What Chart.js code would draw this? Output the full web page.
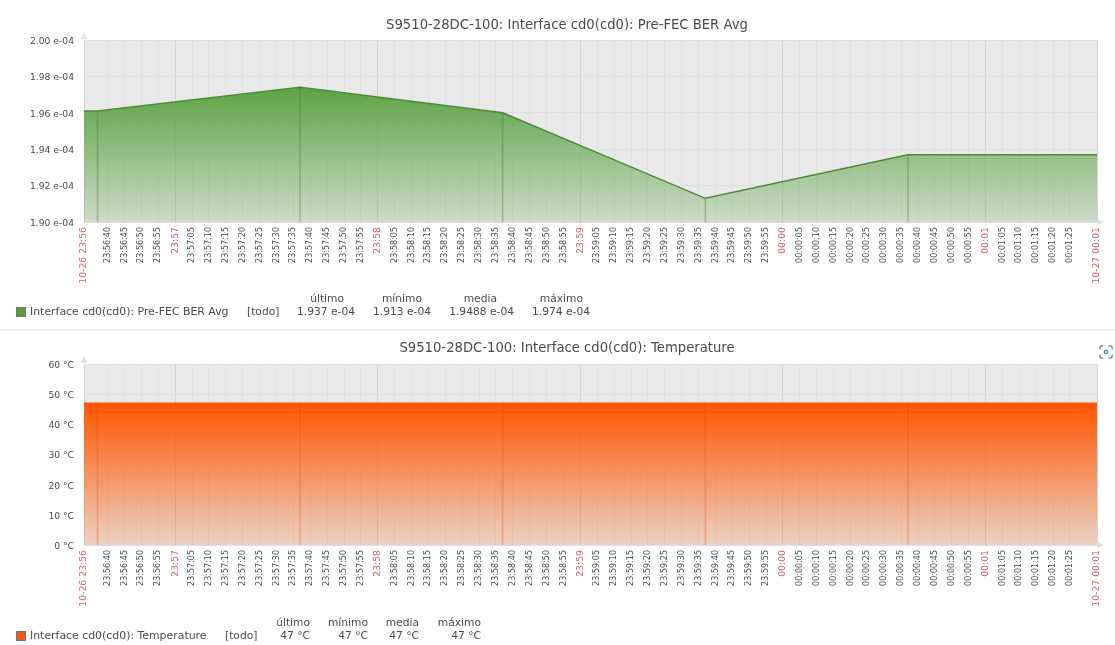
<!DOCTYPE html>
<html>
<head>
<meta charset="utf-8">
<script src="https://cdn.jsdelivr.net/npm/chart.js@4"></script>
<style>
  html, body { margin: 0; padding: 0; background: #fff; }
  body { position: relative; width: 1115px; height: 645px; overflow: hidden; font-family: "DejaVu Sans", sans-serif; color: #4a4a4a; filter: blur(0.4px); }
  canvas { position: absolute; left: 0; }
  #chart-ber { top: 0; }
  #chart-temp { top: 330px; }
  .txt { position: absolute; white-space: nowrap; font-size: 10.7px; line-height: 12px; }
  .name { font-size: 10.9px; }
  .title { font-size: 13.2px; line-height: 16px; transform: translateX(-50%); color: #4a4a4a; }
  .swatch { position: absolute; width: 10px; height: 10px; box-sizing: border-box; border: 1px solid #777; }
  #sep { position: absolute; left: 0; top: 329px; width: 1115px; height: 2px; background: #e6ebf0; }
  #shot { position: absolute; left: 1099px; top: 345px; }
</style>
</head>
<body>
<canvas id="chart-ber" width="1115" height="322"></canvas>
<canvas id="chart-temp" width="1115" height="315"></canvas>
<div id="sep"></div>
<svg id="shot" width="14" height="14" viewBox="0 0 16 16" fill="none" stroke="#4f86b0" stroke-width="1.5">
  <path d="M1 5V3a2 2 0 0 1 2-2h2M11 1h2a2 2 0 0 1 2 2v2M15 11v2a2 2 0 0 1-2 2h-2M5 15H3a2 2 0 0 1-2-2v-2"/>
  <circle cx="8" cy="8" r="1.8"/>
</svg>
<script>
const axisStart = '23:56:33'
const axisEnd = '00:01:33'

const tickLabels = [
  '10-26 23:56', '23:56:40', '23:56:45', '23:56:50', '23:56:55',
  '23:57', '23:57:05', '23:57:10', '23:57:15', '23:57:20', '23:57:25', '23:57:30', '23:57:35', '23:57:40', '23:57:45', '23:57:50', '23:57:55',
  '23:58', '23:58:05', '23:58:10', '23:58:15', '23:58:20', '23:58:25', '23:58:30', '23:58:35', '23:58:40', '23:58:45', '23:58:50', '23:58:55',
  '23:59', '23:59:05', '23:59:10', '23:59:15', '23:59:20', '23:59:25', '23:59:30', '23:59:35', '23:59:40', '23:59:45', '23:59:50', '23:59:55',
  '00:00', '00:00:05', '00:00:10', '00:00:15', '00:00:20', '00:00:25', '00:00:30', '00:00:35', '00:00:40', '00:00:45', '00:00:50', '00:00:55',
  '00:01', '00:01:05', '00:01:10', '00:01:15', '00:01:20', '00:01:25',
  '10-27 00:01'
]

// muestras del historico (la primera y la ultima son los bordes del eje)
const pollTimes = ['23:56:33', '23:56:37', '23:57:37', '23:58:37', '23:59:37', '00:00:37', '00:01:33']
const berValues = [1.961, 1.961, 1.974, 1.96, 1.913, 1.937, 1.937]
const tempValues = [47, 47, 47, 47, 47, 47, 47]

const statHeaders = ['último', 'mínimo', 'media', 'máximo']
const berStats = ['1.937 e-04', '1.913 e-04', '1.9488 e-04', '1.974 e-04']
const tempStats = ['47 °C', '47 °C', '47 °C', '47 °C']

function toSec(t) {
  const p = t.split(':').map(Number)
  const s = p[0] * 3600 + p[1] * 60 + (p[2] || 0)
  return p[0] < 12 ? s + 86400 : s
}

function isRed(label) { return label.length !== 8 }

function tickValue(label, i) {
  if (i === 0) return toSec(axisStart)
  if (i === tickLabels.length - 1) return toSec(axisEnd)
  return toSec(label)
}

const tickValues = tickLabels.map(tickValue)

// fondo gris y flechas de los ejes
const plotDecor = {
  id: 'plotDecor',
  beforeDraw(chart) {
    const { ctx, chartArea: a } = chart
    ctx.save()
    ctx.fillStyle = '#e9e9e9'
    ctx.fillRect(a.left, a.top, a.width, a.height)
    ctx.restore()
  },
  afterDraw(chart) {
    const { ctx, chartArea: a } = chart
    ctx.save()
    ctx.fillStyle = '#dfdfdf'
    ctx.beginPath()
    ctx.moveTo(a.left, a.top - 8); ctx.lineTo(a.left - 3, a.top - 1); ctx.lineTo(a.left + 3, a.top - 1)
    ctx.fill()
    ctx.beginPath()
    ctx.moveTo(a.right + 7, a.bottom); ctx.lineTo(a.right, a.bottom - 3); ctx.lineTo(a.right, a.bottom + 3)
    ctx.fill()
    ctx.restore()
  }
}

function makeChart(id, cfg) {
  const points = pollTimes.map((t, i) => ({ x: toSec(t), y: cfg.values[i] }))
  const peak = Math.max(...cfg.values)

  return new Chart(document.getElementById(id), {
    type: 'line',
    data: {
      datasets: [
        {
          data: points,
          borderColor: cfg.line,
          borderWidth: cfg.lineWidth,
          pointRadius: 0,
          tension: 0,
          fill: 'start',
          order: 2,
          backgroundColor: c => {
            const area = c.chart.chartArea
            if (!area) return cfg.top
            const g = c.chart.ctx.createLinearGradient(0, c.chart.scales.y.getPixelForValue(peak), 0, area.bottom)
            g.addColorStop(0, cfg.top)
            g.addColorStop(1, cfg.bottom)
            return g
          }
        },
        {
          // marcas verticales en cada muestra
          type: 'bar',
          data: points.slice(1, -1),
          backgroundColor: cfg.mark,
          barThickness: 1,
          order: 1
        }
      ]
    },
    options: {
      responsive: false,
      animation: false,
      layout: { padding: { top: cfg.top0, right: 18 } },
      plugins: { legend: { display: false }, title: { display: false }, tooltip: { enabled: false } },
      scales: {
        x: {
          type: 'linear',
          offset: false,
          min: toSec(axisStart),
          max: toSec(axisEnd),
          afterBuildTicks: s => { s.ticks = tickValues.map(v => ({ value: v })) },
          afterFit: s => { s.height = cfg.axisH },
          grid: {
            offset: false,
            drawTicks: false,
            color: c => isRed(tickLabels[c.index] || '') ? '#d4d4d4' : '#e0e0e0'
          },
          border: { display: false },
          ticks: {
            autoSkip: false,
            minRotation: 90,
            maxRotation: 90,
            padding: 5,
            callback: (v, i) => tickLabels[i],
            color: c => isRed(tickLabels[c.index] || '') ? '#d9606c' : '#4a4a4a',
            font: c => ({ family: 'DejaVu Sans', size: isRed(tickLabels[c.index] || '') ? 9.3 : 8 })
          }
        },
        y: {
          min: cfg.min,
          max: cfg.max,
          afterFit: s => { s.width = 84 },
          grid: { drawTicks: false, color: '#e0e0e0' },
          border: { display: false },
          ticks: {
            stepSize: cfg.step,
            padding: 10,
            labelOffset: 1.5,
            color: '#4a4a4a',
            font: { family: 'DejaVu Sans', size: 9.2 },
            callback: cfg.fmt
          }
        }
      }
    },
    plugins: [plotDecor]
  })
}

makeChart('chart-ber', {
  values: berValues, min: 1.9, max: 2.0, step: 0.02, top0: 40, axisH: 100,
  line: '#4d8a38', lineWidth: 1.5,
  top: 'rgba(92,163,68,1)', bottom: 'rgba(92,163,68,0.2)', mark: 'rgba(60,110,45,0.3)',
  fmt: v => v.toFixed(2) + ' e-04'
})

makeChart('chart-temp', {
  values: tempValues, min: 0, max: 60, step: 10, top0: 34, axisH: 100,
  line: '#ff5500', lineWidth: 1.5,
  top: 'rgba(255,85,0,1)', bottom: 'rgba(255,85,0,0.16)', mark: 'rgba(205,70,10,0.25)',
  fmt: v => v + ' °C'
})

// titulos y leyendas como texto
function addText(str, x, y, cls, align) {
  const el = document.createElement('span')
  el.className = 'txt ' + (cls || '')
  el.textContent = str
  el.style.top = y + 'px'
  if (align === 'right') el.style.right = (1115 - x) + 'px'
  else el.style.left = x + 'px'
  document.body.appendChild(el)
}

function addLegend(cfg) {
  const sw = document.createElement('div')
  sw.className = 'swatch'
  sw.style.left = '16px'
  sw.style.top = cfg.rowY + 'px'
  sw.style.background = cfg.color
  document.body.appendChild(sw)
  addText(cfg.name, 30, cfg.rowY - 1, 'name')
  addText('[todo]', cfg.todoX, cfg.rowY - 1)
  statHeaders.forEach((h, i) => {
    addText(h, cfg.heads[i], cfg.rowY - 14, '', 'right')
    addText(cfg.stats[i], cfg.cols[i], cfg.rowY - 1, '', 'right')
  })
}

addText('S9510-28DC-100: Interface cd0(cd0): Pre-FEC BER Avg', 567, 17, 'title')
addText('S9510-28DC-100: Interface cd0(cd0): Temperature', 567, 340, 'title')

addLegend({ name: 'Interface cd0(cd0): Pre-FEC BER Avg', color: '#5a9f42', rowY: 307, todoX: 247, heads: [344, 422, 497, 583], cols: [355, 431, 514, 590], stats: berStats })
addLegend({ name: 'Interface cd0(cd0): Temperature', color: '#f4591c', rowY: 631, todoX: 225, heads: [310, 368, 419, 481], cols: [310, 368, 419, 481], stats: tempStats })
</script>
</body>
</html>
